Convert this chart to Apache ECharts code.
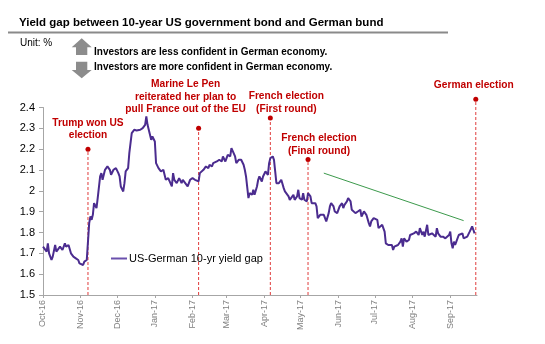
<!DOCTYPE html>
<html><head><meta charset="utf-8">
<script src="https://cdn.jsdelivr.net/npm/echarts@6/dist/echarts.min.js"></script>
<style>html,body{margin:0;padding:0;background:#fff}#c{width:545px;height:344px}</style>
</head><body><div id="c"></div>
<script>
// ---- data ----
const dates = [
'2016-10-01','2016-10-02','2016-10-04','2016-10-05','2016-10-06','2016-10-08','2016-10-09','2016-10-11','2016-10-12','2016-10-13',
'2016-10-15','2016-10-16','2016-10-17','2016-10-19','2016-10-20','2016-10-22','2016-10-23','2016-10-24','2016-10-26','2016-10-28',
'2016-10-30','2016-10-31','2016-11-01','2016-11-03','2016-11-04','2016-11-06','2016-11-07','2016-11-08','2016-11-09','2016-11-10',
'2016-11-11','2016-11-12','2016-11-14','2016-11-15','2016-11-17','2016-11-18','2016-11-19','2016-11-21','2016-11-22','2016-11-23',
'2016-11-25','2016-11-26','2016-11-28','2016-11-29','2016-11-30','2016-12-02','2016-12-03','2016-12-04','2016-12-06','2016-12-07',
'2016-12-08','2016-12-10','2016-12-11','2016-12-13','2016-12-14','2016-12-15','2016-12-17','2016-12-20','2016-12-21','2016-12-22',
'2016-12-24','2016-12-25','2016-12-26','2016-12-29','2016-12-30','2017-01-01','2017-01-02','2017-01-04','2017-01-05','2017-01-06',
'2017-01-08','2017-01-09','2017-01-10','2017-01-12','2017-01-13','2017-01-15','2017-01-16','2017-01-17','2017-01-19','2017-01-20',
'2017-01-21','2017-01-23','2017-01-24','2017-01-26','2017-01-27','2017-01-28','2017-01-30','2017-02-01','2017-02-03','2017-02-04',
'2017-02-06','2017-02-07','2017-02-08','2017-02-10','2017-02-11','2017-02-12','2017-02-14','2017-02-15','2017-02-17','2017-02-18',
'2017-02-19','2017-02-21','2017-02-22','2017-02-23','2017-02-25','2017-02-26','2017-02-28','2017-03-01','2017-03-02','2017-03-04',
'2017-03-05','2017-03-06','2017-03-08','2017-03-09','2017-03-11','2017-03-12','2017-03-13','2017-03-15','2017-03-16','2017-03-17',
'2017-03-19','2017-03-20','2017-03-22','2017-03-23','2017-03-24','2017-03-26','2017-03-27','2017-03-28','2017-03-30','2017-03-31',
'2017-04-02','2017-04-03','2017-04-04','2017-04-05','2017-04-06','2017-04-08','2017-04-09','2017-04-10','2017-04-11','2017-04-13',
'2017-04-14','2017-04-15','2017-04-17','2017-04-18','2017-04-19','2017-04-21','2017-04-22','2017-04-23','2017-04-25','2017-04-26',
'2017-04-28','2017-04-29','2017-04-30','2017-05-02','2017-05-03','2017-05-04','2017-05-06','2017-05-07','2017-05-09','2017-05-10',
'2017-05-11','2017-05-13','2017-05-14','2017-05-15','2017-05-17','2017-05-18','2017-05-20','2017-05-21','2017-05-22','2017-05-24',
'2017-05-25','2017-05-26','2017-05-28','2017-05-29','2017-05-31','2017-06-01','2017-06-02','2017-06-04','2017-06-05','2017-06-06',
'2017-06-08','2017-06-09','2017-06-11','2017-06-12','2017-06-13','2017-06-15','2017-06-16','2017-06-17','2017-06-19','2017-06-20',
'2017-06-22','2017-06-23','2017-06-24','2017-06-26','2017-06-27','2017-06-28','2017-06-30','2017-07-01','2017-07-03','2017-07-04',
'2017-07-05','2017-07-07','2017-07-08','2017-07-09','2017-07-10','2017-07-11','2017-07-12','2017-07-13','2017-07-15','2017-07-16',
'2017-07-17','2017-07-18','2017-07-20','2017-07-21','2017-07-22','2017-07-23','2017-07-24','2017-07-25','2017-07-26','2017-07-27',
'2017-07-29','2017-07-30','2017-07-31','2017-08-02','2017-08-03','2017-08-04','2017-08-06','2017-08-07','2017-08-09','2017-08-10',
'2017-08-11','2017-08-13','2017-08-14','2017-08-15','2017-08-17','2017-08-18','2017-08-20','2017-08-21','2017-08-22','2017-08-24',
'2017-08-25','2017-08-26','2017-08-28','2017-08-29','2017-08-31','2017-09-01','2017-09-02','2017-09-03','2017-09-04','2017-09-05',
'2017-09-06','2017-09-08','2017-09-09','2017-09-11','2017-09-12','2017-09-13','2017-09-15','2017-09-16','2017-09-17','2017-09-19',
'2017-09-20','2017-09-21'
];
const yieldGap = [
1.732,1.740,1.708,1.748,1.700,1.668,1.684,1.740,1.708,1.716,
1.732,1.732,1.716,1.748,1.732,1.740,1.732,1.700,1.684,1.676,
1.668,1.652,1.660,1.644,1.660,1.668,1.676,1.845,1.877,1.861,
1.885,1.941,1.917,1.965,2.069,2.085,2.053,2.101,2.109,2.117,
2.101,2.077,2.101,2.093,2.109,2.085,2.069,2.021,1.997,2.037,
2.093,2.109,2.181,2.277,2.285,2.293,2.290,2.293,2.293,2.301,
2.317,2.357,2.317,2.245,2.261,2.237,2.133,2.109,2.117,2.093,
2.101,2.077,2.053,2.061,2.053,2.021,2.085,2.053,2.037,2.045,
2.061,2.037,2.053,2.037,2.045,2.021,2.053,2.061,2.053,2.045,
2.045,2.085,2.093,2.101,2.109,2.117,2.109,2.125,2.117,2.133,
2.125,2.141,2.133,2.149,2.141,2.165,2.141,2.157,2.173,2.165,
2.205,2.197,2.165,2.133,2.149,2.149,2.149,2.125,2.101,2.069,
1.965,1.989,1.981,2.005,1.981,2.021,2.053,2.069,2.045,2.069,
2.093,2.101,2.077,2.133,2.157,2.165,2.149,2.093,2.037,2.037,
2.045,2.053,2.013,1.997,1.989,1.973,1.957,1.965,1.981,1.957,
1.973,2.005,1.965,1.957,1.989,1.957,1.949,1.989,1.973,1.941,
1.933,1.941,1.925,1.869,1.885,1.877,1.885,1.869,1.853,1.893,
1.925,1.941,1.925,1.901,1.893,1.901,1.925,1.941,1.917,1.933,
1.949,1.965,1.949,1.909,1.901,1.893,1.885,1.901,1.909,1.877,
1.901,1.893,1.885,1.845,1.829,1.853,1.869,1.877,1.861,1.821,
1.829,1.837,1.829,1.804,1.748,1.740,1.740,1.732,1.740,1.716,
1.732,1.732,1.740,1.748,1.756,1.772,1.732,1.772,1.764,1.756,
1.764,1.788,1.780,1.796,1.788,1.804,1.788,1.821,1.788,1.804,
1.780,1.837,1.788,1.780,1.796,1.804,1.780,1.821,1.796,1.780,
1.788,1.780,1.772,1.764,1.788,1.804,1.748,1.724,1.756,1.740,
1.756,1.788,1.780,1.796,1.772,1.780,1.780,1.788,1.804,1.829,
1.813,1.796
];
const seriesName = 'US-German 10-yr yield gap';
const eventDates = ['2016-11-07','2017-02-06','2017-04-06','2017-05-07','2017-09-22'];
const eventTops = [2.2, 2.3, 2.35, 2.15, 2.44];
const eventLabels = ['Trump won US\nelection','Marine Le Pen\nreiterated her plan to\npull France out of the EU','French election\n(First round)','French election\n(Final round)','German election'];
const trendStart = ['2017-05-20', 2.085];
const trendEnd = ['2017-09-12', 1.857];
const xStart = '2016-10-01', xEnd = '2017-09-23';
const yMin = 1.5, yMax = 2.4, yStep = 0.1;
const monthNames = ['Jan','Feb','Mar','Apr','May','Jun','Jul','Aug','Sep','Oct','Nov','Dec'];
const titleText = 'Yield gap between 10-year US government bond and German bund';
const unitText = 'Unit: %';
const noteUp = 'Investors are less confident in German economy.';
const noteDown = 'Investors are more confident in German economy.';

// ---- styles (not data) ----
const labelOffsets = [[0,-5],[-13,-10],[16,0],[11,0],[-2,-5]];
const FONT = "'Liberation Sans Narrow', 'Liberation Sans', Arial, sans-serif";
const FONT_REG = "'Liberation Sans', Arial, sans-serif";
const RED = '#c00000';

const t = s => { const p = s.split('-').map(Number); return new Date(p[0], p[1]-1, p[2]).getTime(); };

const chart = echarts.init(document.getElementById('c'), null, {renderer: 'canvas'});

const eventSeries = eventDates.map((d, i) => ({
  type: 'line', clip: false, silent: true, animation: false, z: 1,
  lineStyle: {color: '#e03c3c', width: 1, type: [3, 2]},
  itemStyle: {color: RED},
  data: [
    {value: [t(d), yMin], symbol: 'none'},
    {value: [t(d), eventTops[i]], symbol: 'circle', symbolSize: 5,
     label: {show: true, position: 'top', distance: 0, offset: labelOffsets[i],
       formatter: eventLabels[i], color: RED, fontWeight: 'bold', fontSize: 10.2,
       lineHeight: 12.5, fontFamily: FONT, align: 'center'}}
  ]
}));

const arrowColor = '#8c8c8c';
chart.setOption({
  animation: false,
  backgroundColor: '#fff',
  textStyle: {fontFamily: FONT_REG},
  title: {text: titleText, left: 19, top: 17, padding: 0,
    textStyle: {fontSize: 11.5, fontWeight: 'bold', color: '#000', fontFamily: FONT}},
  grid: {left: 43, right: 68, top: 107.5, bottom: 49, containLabel: false},
  legend: {data: [{name: seriesName, icon: 'rect'}], left: 111, top: 253, itemWidth: 16, itemHeight: 2, padding: 0,
    itemGap: 0,
    textStyle: {fontSize: 11, color: '#000', fontFamily: FONT_REG, padding: [0, 0, 0, -3]}},
  xAxis: {
    type: 'time', min: t(xStart), max: t(xEnd),
    minInterval: 28 * 864e5, maxInterval: 31 * 864e5,
    axisLine: {show: true, lineStyle: {color: '#a6a6a6'}},
    axisTick: {show: true, length: 3, lineStyle: {color: '#a6a6a6'}},
    splitLine: {show: false},
    axisLabel: {rotate: 90, fontSize: 9, color: '#7f7f7f', margin: 5, fontFamily: FONT_REG,
      formatter: v => { const d = new Date(v); return monthNames[d.getMonth()] + '-' + String(d.getFullYear()).slice(2); }}
  },
  yAxis: {
    type: 'value', min: yMin, max: yMax, interval: yStep,
    axisLine: {show: true, lineStyle: {color: '#a6a6a6'}},
    axisTick: {show: true, length: 4, lineStyle: {color: '#a6a6a6'}},
    splitLine: {show: false},
    axisLabel: {fontSize: 11, color: '#000', margin: 8, fontFamily: FONT_REG}
  },
  series: [
    {
      name: seriesName, type: 'line', symbol: 'none', z: 3,
      lineStyle: {color: '#4b2c8f', width: 2}, itemStyle: {color: '#6a50ad'},
      data: dates.map((d, i) => [t(d), yieldGap[i]]),
      markLine: {silent: true, symbol: ['none', 'arrow'], symbolSize: [0, 8],
        label: {show: false}, lineStyle: {color: '#3c9a4c', width: 1, type: 'solid'},
        emphasis: {disabled: true},
        data: [[{coord: [t(trendStart[0]), trendStart[1]]}, {coord: [t(trendEnd[0]), trendEnd[1]]}]]}
    },
    ...eventSeries
  ],
  graphic: [
    {type: 'line', shape: {x1: 8, y1: 32.5, x2: 448, y2: 32.5}, style: {stroke: '#8a8a8a', lineWidth: 2}},
    {type: 'text', left: 20, top: 38.5, style: {text: unitText, font: '10px ' + FONT_REG, fill: '#000'}},
    {type: 'polygon', shape: {points: [[81.7,38.3],[91.7,47.3],[87.3,47.3],[87.3,55],[76,55],[76,47.3],[71.7,47.3]]}, style: {fill: arrowColor}},
    {type: 'polygon', shape: {points: [[76,61.7],[87.3,61.7],[87.3,70],[91.7,70],[81.7,78.3],[71.7,70],[76,70]]}, style: {fill: arrowColor}},
    {type: 'text', x: 94, y: 52, style: {text: noteUp, font: 'bold 10px ' + FONT, fill: '#000', textVerticalAlign: 'middle'}},
    {type: 'text', x: 94, y: 67.5, style: {text: noteDown, font: 'bold 10px ' + FONT, fill: '#000', textVerticalAlign: 'middle'}}
  ]
});
</script></body></html>
